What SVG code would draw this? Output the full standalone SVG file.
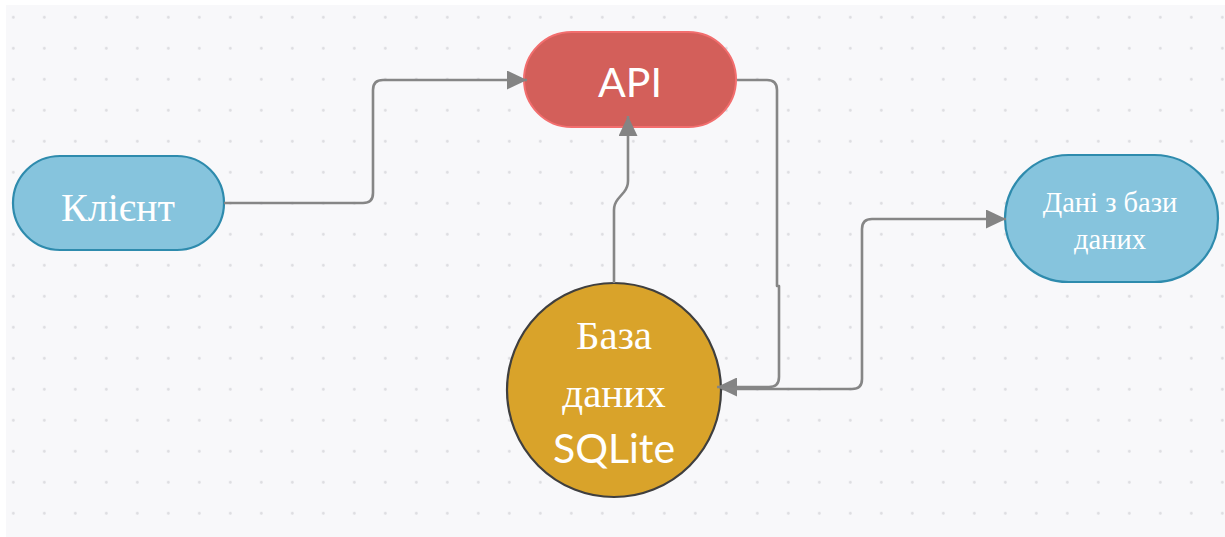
<svg xmlns="http://www.w3.org/2000/svg" width="1225" height="537" viewBox="0 0 1225 537">
  <defs>
    <pattern id="dots" x="-2.2" y="1.8" width="31" height="31" patternUnits="userSpaceOnUse">
      <circle cx="15.5" cy="15.5" r="1.4" fill="#dcdce0"/>
    </pattern>
    <marker id="arrow" viewBox="0 0 20 19" refX="20" refY="9.5" markerWidth="20" markerHeight="19" markerUnits="userSpaceOnUse" orient="auto">
      <path d="M0,0 L20,9.5 L0,19 Z" fill="#848484"/>
    </marker>
    <style>
      .edge { fill: none; stroke: #868686; stroke-width: 2.6; stroke-linejoin: round; }
      .blue { fill: #86c4dd; stroke: #2e8bad; stroke-width: 2.2; }
      .serif { font-family: "Liberation Serif", "Times New Roman", serif; fill: #ffffff; text-anchor: middle; }
      .sans { font-family: Lato, "Open Sans", sans-serif; fill: #ffffff; text-anchor: middle; }
    </style>
  </defs>

  <!-- canvas -->
  <rect x="0" y="0" width="1225" height="537" fill="#ffffff"/>
  <rect x="6" y="5" width="1219" height="532" fill="#f8f8fa"/>
  <rect x="6" y="5" width="1219" height="532" fill="url(#dots)"/>

  <!-- nodes -->
  <g id="client">
    <rect class="blue" x="13" y="156" width="211" height="94" rx="47" ry="47"/>
    <text class="serif" x="118" y="221" font-size="40">Клієнт</text>
  </g>

  <g id="api">
    <rect x="524" y="32" width="212" height="95" rx="47.5" ry="47.5" fill="#d35f5a" stroke="#f26e6e" stroke-width="2"/>
    <text class="sans" x="630" y="97" font-size="41">API</text>
  </g>

  <g id="database">
    <circle cx="614" cy="390" r="107" fill="#d9a32a" stroke="#3f3f3f" stroke-width="2.2"/>
    <text class="serif" x="614" y="349" font-size="41">База</text>
    <text class="serif" x="614" y="407" font-size="41">даних</text>
    <text class="sans" x="614" y="463" font-size="41">SQLite</text>
  </g>

  <g id="result">
    <rect class="blue" x="1005" y="155" width="213" height="127" rx="63.5" ry="63.5"/>
    <text class="serif" x="1110" y="212" font-size="28.5">Дані з бази</text>
    <text class="serif" x="1110" y="249" font-size="28.5">даних</text>
  </g>

  <!-- connectors -->
  <g id="connectors">
    <path class="edge" d="M224,203 H363 Q373,203 373,193 V90 Q373,80 383,80 H527" marker-end="url(#arrow)"/>
    <path class="edge" d="M614,283 V210 Q614,204 618,199 L624,192 Q628,187 628,181 V116" marker-end="url(#arrow)"/>
    <path class="edge" d="M737,80 H767 Q777,80 777,90 V286 H779 V377 Q779,387 769,387 H717" marker-end="url(#arrow)"/>
    <path class="edge" d="M722,389 H852 Q862,389 862,379 V229 Q862,219 872,219 H1006" marker-end="url(#arrow)"/>
  </g>
</svg>
